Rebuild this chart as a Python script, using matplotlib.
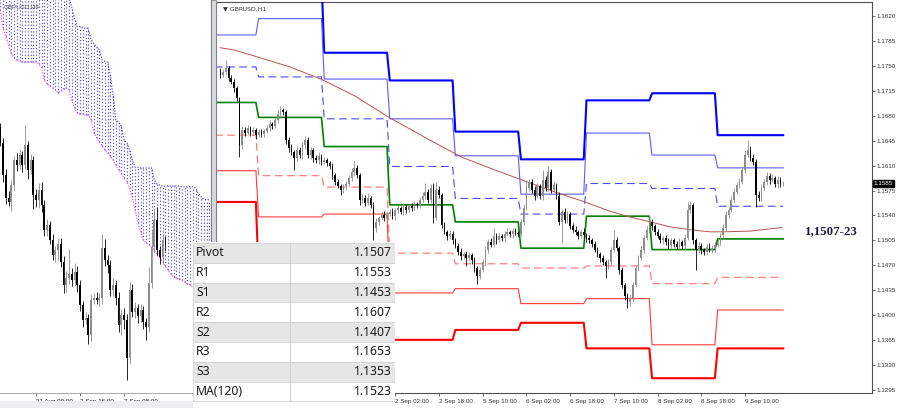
import numpy as np
import matplotlib.pyplot as plt
from matplotlib.patches import Rectangle
from matplotlib.transforms import blended_transform_factory

plt.rcParams['font.family'] = ['Liberation Sans', 'DejaVu Sans']

# ============================================================
# 1) DATA  (read off the screenshot)
# ============================================================
PIP = 0.0001

# --- GBPUSD H1 (right panel), bar index 0 = 30 Aug 10:00 ---
h1_first_open = 1.1745
h1_close = [
    1.1738, 1.1742, 1.1748, 1.1733, 1.1728, 1.1719, 1.1705, 1.1639, 1.1660, 1.1656, 1.1663, 1.1657, 1.1660, 1.1653, 1.1657, 1.1655, 1.1659, 1.1663, 1.1669, 1.1666,
    1.1674, 1.1683, 1.1688, 1.1686, 1.1646, 1.1635, 1.1629, 1.1621, 1.1632, 1.1625, 1.1639, 1.1646, 1.1625, 1.1632, 1.1621, 1.1618, 1.1624, 1.1615, 1.1618, 1.1614,
    1.1610, 1.1597, 1.1587, 1.1581, 1.1576, 1.1581, 1.1584, 1.1593, 1.1601, 1.1607, 1.1597, 1.1562, 1.1565, 1.1558, 1.1565, 1.1555, 1.1522, 1.1531, 1.1536, 1.1541,
    1.1536, 1.1542, 1.1545, 1.1539, 1.1548, 1.1551, 1.1545, 1.1552, 1.1548, 1.1553, 1.1551, 1.1556, 1.1555, 1.1562, 1.1567, 1.1573, 1.1562, 1.1579, 1.1536, 1.1576,
    1.1569, 1.1527, 1.1517, 1.1511, 1.1514, 1.1505, 1.1497, 1.1489, 1.1483, 1.1486, 1.1480, 1.1484, 1.1477, 1.1466, 1.1455, 1.1463, 1.1474, 1.1491, 1.1503, 1.1499,
    1.1511, 1.1505, 1.1511, 1.1508, 1.1514, 1.1517, 1.1514, 1.1518, 1.1515, 1.1514, 1.1531, 1.1551, 1.1579, 1.1587, 1.1576, 1.1567, 1.1581, 1.1567, 1.1590, 1.1579,
    1.1601, 1.1576, 1.1583, 1.1567, 1.1531, 1.1545, 1.1534, 1.1542, 1.1525, 1.1520, 1.1517, 1.1511, 1.1517, 1.1512, 1.1508, 1.1505, 1.1500, 1.1491, 1.1486, 1.1480,
    1.1474, 1.1469, 1.1474, 1.1491, 1.1505, 1.1494, 1.1463, 1.1442, 1.1427, 1.1418, 1.1424, 1.1442, 1.1466, 1.1480, 1.1491, 1.1508, 1.1520, 1.1531, 1.1525, 1.1517,
    1.1511, 1.1505, 1.1508, 1.1503, 1.1499, 1.1505, 1.1500, 1.1496, 1.1503, 1.1497, 1.1508, 1.1548, 1.1555, 1.1505, 1.1491, 1.1497, 1.1491, 1.1489, 1.1496, 1.1491,
    1.1494, 1.1499, 1.1503, 1.1512, 1.1522, 1.1541, 1.1548, 1.1562, 1.1573, 1.1583, 1.1587, 1.1604, 1.1625, 1.1632, 1.1621, 1.1615, 1.1569, 1.1565, 1.1579, 1.1587,
    1.1596, 1.1590, 1.1593, 1.1584, 1.1590, 1.1584, 1.1585,
]
# wick lengths above / below the body, in pips
h1_up = [
    3, 4, 11, 3, 5, 4, 3, 2, 6, 4, 5, 3, 4, 3, 5, 4, 3, 4, 5, 3,
    4, 5, 6, 3, 3, 4, 5, 3, 6, 4, 5, 6, 4, 5, 3, 4, 5, 3, 4, 3,
    3, 4, 3, 5, 3, 4, 5, 4, 6, 10, 4, 3, 5, 4, 6, 3, 4, 5, 3, 4,
    5, 3, 4, 5, 3, 4, 3, 5, 4, 3, 4, 5, 3, 4, 6, 13, 4, 5, 7, 11,
    5, 3, 4, 3, 5, 4, 3, 4, 5, 3, 4, 5, 3, 4, 3, 4, 5, 6, 4, 5,
    11, 4, 5, 3, 4, 5, 3, 4, 5, 3, 4, 5, 11, 5, 4, 6, 5, 4, 14, 5,
    8, 4, 5, 3, 6, 4, 5, 4, 3, 4, 5, 3, 4, 5, 3, 4, 3, 4, 5, 3,
    4, 3, 5, 4, 14, 5, 3, 4, 3, 4, 6, 5, 4, 5, 6, 4, 5, 10, 4, 3,
    4, 5, 3, 4, 5, 4, 3, 4, 5, 3, 6, 11, 5, 3, 4, 5, 4, 3, 4, 5,
    4, 3, 5, 4, 6, 5, 4, 6, 5, 4, 6, 5, 7, 14, 6, 5, 4, 5, 6, 4,
    5, 4, 6, 3, 5, 4, 3,
]
h1_dn = [
    4, 3, 5, 4, 3, 5, 4, 17, 5, 4, 3, 5, 4, 6, 3, 4, 5, 3, 4, 5,
    3, 4, 5, 4, 5, 6, 4, 17, 5, 4, 6, 5, 4, 5, 6, 4, 5, 4, 3, 5,
    4, 5, 4, 3, 7, 4, 5, 3, 4, 5, 4, 7, 5, 4, 3, 4, 17, 5, 4, 3,
    4, 5, 3, 4, 5, 4, 3, 4, 5, 3, 4, 3, 5, 4, 3, 4, 5, 4, 6, 3,
    4, 5, 3, 6, 4, 5, 3, 4, 5, 4, 11, 4, 5, 6, 11, 4, 3, 5, 4, 3,
    4, 5, 3, 4, 5, 3, 4, 5, 3, 4, 3, 4, 3, 5, 4, 5, 3, 4, 5, 4,
    4, 5, 3, 4, 5, 30, 4, 5, 4, 3, 5, 4, 3, 4, 5, 4, 5, 3, 4, 5,
    4, 17, 5, 4, 3, 4, 5, 4, 6, 8, 5, 4, 3, 4, 3, 4, 3, 4, 5, 4,
    3, 4, 5, 4, 6, 5, 4, 3, 5, 4, 4, 3, 4, 5, 28, 4, 5, 4, 5, 3,
    4, 5, 3, 4, 3, 4, 5, 3, 4, 3, 4, 3, 4, 3, 5, 4, 17, 5, 4, 3,
    4, 5, 3, 4, 5, 4, 3,
]

# daily pivot levels (30 Aug ... 9 Sep), first/last H1 bar of each day
day_start = [-2, 14, 38, 62, 86, 110, 134, 158, 182]
day_end = [13, 37, 61, 85, 109, 133, 157, 181, 206]
lvl_r3 = [1.1846, 1.1875, 1.1769, 1.1730, 1.1658, 1.1619, 1.1702, 1.1712, 1.1653]
lvl_r2 = [1.1794, 1.1817, 1.1732, 1.1676, 1.1624, 1.1570, 1.1656, 1.1625, 1.1607]
lvl_r1 = [1.1749, 1.1735, 1.1676, 1.1609, 1.1564, 1.1542, 1.1585, 1.1578, 1.1553]
lvl_p = [1.1699, 1.1678, 1.1637, 1.1555, 1.1531, 1.1494, 1.1539, 1.1492, 1.1507]
lvl_s1 = [1.1653, 1.1596, 1.1580, 1.1487, 1.1472, 1.1466, 1.1469, 1.1444, 1.1453]
lvl_s2 = [1.1603, 1.1538, 1.1542, 1.1431, 1.1437, 1.1416, 1.1423, 1.1358, 1.1407]
lvl_s3 = [1.1559, 1.1456, 1.1485, 1.1365, 1.1379, 1.1389, 1.1353, 1.1311, 1.1353]

# MA(120) read at a few bars
ma_bar = [0, 5, 14.5, 25.5, 36.8, 49.3, 61.3, 76.7, 88.4, 100.5, 112.5, 122.5, 132.7,
          142.6, 148.8, 157.3, 164.6, 171.9, 179.2, 184, 193.9, 205.6]
ma_val = [1.1776, 1.1773, 1.1762, 1.1749, 1.1732, 1.1708, 1.1679, 1.1646, 1.1622, 1.1604,
          1.1587, 1.1573, 1.1560, 1.1546, 1.1539, 1.1531, 1.1524, 1.1520, 1.1517, 1.1517,
          1.1518, 1.1523]

price_ticks = [1.1295, 1.1330, 1.1365, 1.1400, 1.1435, 1.1470, 1.1505, 1.1540,
               1.1575, 1.1610, 1.1645, 1.1680, 1.1715, 1.1750, 1.1785, 1.1820]
h1_tick_bars = [0, 16, 32, 48, 64, 80, 96, 112, 128, 144, 160, 176, 192]
h1_tick_labels = ['30 Aug 2022', '31 Aug 02:00', '31 Aug 18:00', '1 Sep 10:00',
                  '2 Sep 02:00', '2 Sep 18:00', '5 Sep 10:00', '6 Sep 02:00',
                  '6 Sep 18:00', '7 Sep 10:00', '8 Sep 02:00', '8 Sep 18:00', '9 Sep 10:00']
last_price = 1.1585

# --- GBPUSD H4 (left panel) ---
h4_first_open = 1.1758
h4_close = [
    1.1736, 1.1691, 1.1659, 1.1654, 1.1677, 1.1712, 1.1705, 1.1719, 1.1705, 1.1733, 1.1698, 1.1712, 1.1664, 1.1657, 1.1670, 1.1650, 1.1615, 1.1622, 1.1601, 1.1580,
    1.1587, 1.1596, 1.1571, 1.1539, 1.1548, 1.1554, 1.1546, 1.1557, 1.1539, 1.1511, 1.1490, 1.1493, 1.1469, 1.1518, 1.1521, 1.1518, 1.1521, 1.1590, 1.1573, 1.1566,
    1.1532, 1.1539, 1.1521, 1.1483, 1.1497, 1.1490, 1.1437, 1.1532, 1.1501, 1.1507, 1.1496, 1.1504, 1.1487, 1.1480, 1.1541, 1.1591, 1.1629, 1.1587, 1.1578, 1.1601,
    1.1594,
]
h4_up = [
    5, 6, 8, 10, 8, 6, 10, 8, 6, 28, 6, 8, 6, 8, 10, 12, 6, 8, 6, 8,
    6, 8, 8, 8, 10, 35, 8, 12, 8, 6, 6, 8, 6, 8, 6, 8, 6, 20, 12, 8,
    8, 10, 6, 8, 8, 10, 8, 11, 8, 8, 6, 8, 6, 6, 22, 24, 14, 18, 6, 8,
    6,
]
h4_dn = [
    5, 10, 8, 6, 12, 8, 8, 6, 10, 6, 12, 6, 20, 10, 12, 10, 8, 8, 6, 6,
    10, 14, 8, 12, 10, 8, 8, 8, 10, 8, 10, 6, 12, 8, 6, 6, 8, 8, 8, 10,
    8, 8, 10, 10, 14, 12, 30, 8, 6, 8, 10, 8, 10, 18, 6, 6, 8, 6, 10, 10,
    8,
]
# Ichimoku cloud edges per H4 bar
cloud_top = [1.1941] * 20 + [
    1.1941, 1.1941, 1.1941, 1.1941, 1.1941, 1.1941, 1.1923, 1.1909, 1.1897, 1.1897,
    1.1895, 1.1895, 1.1895, 1.1879, 1.1873, 1.1869, 1.1865, 1.1851, 1.1849, 1.1848,
    1.1830, 1.1802, 1.1768, 1.1765, 1.1759, 1.1740, 1.1736, 1.1726, 1.1712, 1.1702,
    1.1702, 1.1701, 1.1701, 1.1701, 1.1701, 1.1701, 1.1684, 1.1679, 1.1677, 1.1676,
    1.1676, 1.1676, 1.1676, 1.1676, 1.1676, 1.1676, 1.1675, 1.1675, 1.1675, 1.1675,
    1.1675, 1.1673, 1.1666, 1.1661, 1.1657, 1.1657, 1.1657,
]
cloud_bot = [
    1.1920, 1.1895, 1.1884, 1.1872, 1.1860, 1.1854, 1.1851, 1.1849, 1.1848, 1.1848,
    1.1848, 1.1848, 1.1848, 1.1848, 1.1845, 1.1841, 1.1823, 1.1817, 1.1815, 1.1812,
    1.1809, 1.1805, 1.1808, 1.1811, 1.1812, 1.1809, 1.1795, 1.1784, 1.1777, 1.1776,
    1.1776, 1.1774, 1.1774, 1.1768, 1.1750, 1.1743, 1.1737, 1.1732, 1.1726, 1.1722,
    1.1718, 1.1712, 1.1705, 1.1698, 1.1693, 1.1687, 1.1682, 1.1673, 1.1661, 1.1643,
    1.1625, 1.1612, 1.1601, 1.1597, 1.1594, 1.1591, 1.1587, 1.1580, 1.1576, 1.1571,
    1.1565, 1.1559, 1.1554, 1.1550, 1.1548, 1.1547, 1.1546, 1.1543, 1.1540, 1.1539,
    1.1536, 1.1535, 1.1533, 1.1532, 1.1532, 1.1532, 1.1532,
]
h4_tick_bars = [13, 29, 45]
h4_tick_labels = ['31 Aug 00:00', '2 Sep 16:00', '7 Sep 08:00']

# summary table
table_names = ['Pivot', 'R1', 'S1', 'R2', 'S2', 'R3', 'S3', 'MA(120)']
table_values = ['1.1507', '1.1553', '1.1453', '1.1607', '1.1407', '1.1653', '1.1353', '1.1523']


# ============================================================
# 2) HELPERS
# ============================================================
W, H = 900, 408


def px_box(x0, y0, x1, y1):
    # pixel box (top-left origin) -> figure fraction rect
    return [x0 / W, 1 - y1 / H, (x1 - x0) / W, (y1 - y0) / H]


def draw_candles(ax, first_open, closes, up, dn, width):
    closes = np.array(closes)
    opens = np.concatenate([[first_open], closes[:-1]])
    x = np.arange(len(closes))
    top = np.maximum(opens, closes)
    bot = np.minimum(opens, closes)
    highs = top + np.array(up) * PIP
    lows = bot - np.array(dn) * PIP
    cols = np.where(closes < opens, '#000000', '#8c8c8c')
    ax.vlines(x, lows, highs, colors=cols, lw=0.6, zorder=4)
    ax.bar(x, np.maximum(top - bot, 0.00006), width, bottom=bot,
           color=cols, lw=0, zorder=5)


def step_level(ax, values, **kw):
    xs, ys = [], []
    for s, e, v in zip(day_start, day_end, values):
        xs += [s, e]
        ys += [v, v]
    ax.plot(xs, ys, **kw)


# ============================================================
# 3) FIGURE
# ============================================================
fig = plt.figure(figsize=(9, 4.08), dpi=100)
fig.patch.set_facecolor('white')
fig.patches.append(Rectangle((0, 0), 211 / W, 7 / H, transform=fig.transFigure,
                             facecolor='#eceef2', edgecolor='none', zorder=0))

# --- left panel: H4 with cloud ---
axl = fig.add_axes(px_box(0, 0, 211, 393))
axl.set_xlim(-0.09, 76.6)
axl.set_ylim(1.13889, 1.1934)
jj = np.arange(len(cloud_top))
axl.vlines(jj, cloud_bot, cloud_top, colors='#3c3cff', lw=0.8,
           linestyles=(0, (1, 2)), zorder=2)
axl.plot(jj, cloud_top, color='#2a2aff', lw=0.8, ls=(0, (1, 1.5)), zorder=2)
axl.plot(jj, cloud_bot, color='#ff30ff', lw=0.8, ls=(0, (1, 1.5)), zorder=2)
draw_candles(axl, h4_first_open, h4_close, h4_up, h4_dn, 0.6)
axl.set_yticks([])
axl.set_xticks(h4_tick_bars)
axl.set_xticklabels(h4_tick_labels, ha='left', fontsize=4.5, color='#222222')
axl.tick_params(axis='x', length=2.5, width=0.5, pad=1.5, color='#444444')
# first date label, its day number lies off the left edge in the reference
axl.text(0.008, -0.025, 'Aug 2022', transform=axl.transAxes,
         fontsize=4.5, color='#222222', ha='left', va='top', clip_on=False)
for side in ['top', 'left']:
    axl.spines[side].set_visible(False)
axl.spines['right'].set_color('#505050')
axl.spines['bottom'].set_color('#9a9a9a')
axl.spines['bottom'].set_linewidth(0.6)
axl.text(0.015, 0.99, 'GBPUSD,H4', transform=axl.transAxes, fontsize=4.5,
         color='#555555', va='top', ha='left', zorder=6)

# splitter between the two charts
fig.patches.append(Rectangle((211 / W, 1 - 393 / H), 5 / W, 393 / H,
                             transform=fig.transFigure, facecolor='#d3d7dc',
                             edgecolor='#7a7a7a', lw=0.5, zorder=1))

# --- right panel: H1 with daily pivots ---
ax = fig.add_axes(px_box(216, 2, 872, 393))
ax.set_xlim(-1.6, 238.5)
ax.set_ylim(1.12902, 1.18404)

step_level(ax, lvl_r3, color='#0000ff', lw=1.5, zorder=3)
step_level(ax, lvl_r2, color='#5c5cff', lw=0.8, zorder=3)
step_level(ax, lvl_r1, color='#4a4aff', lw=0.8, ls=(0, (7, 4)), zorder=3)
step_level(ax, lvl_p, color='#008000', lw=1.2, zorder=3)
step_level(ax, lvl_s1, color='#ff7070', lw=0.8, ls=(0, (7, 4)), zorder=3)
step_level(ax, lvl_s2, color='#ff3a3a', lw=0.8, zorder=3)
step_level(ax, lvl_s3, color='#ff0000', lw=1.5, zorder=3)
ax.plot(ma_bar, ma_val, color='#b9544c', lw=0.7, zorder=3)

draw_candles(ax, h1_first_open, h1_close, h1_up, h1_dn, 0.6)

ax.yaxis.tick_right()
ax.set_yticks(price_ticks)
ax.set_yticklabels([f'{p:.4f}' for p in price_ticks])
ax.tick_params(axis='y', length=2, width=0.5, pad=1.5, labelsize=4.5,
               colors='#333333')
ax.set_xticks(h1_tick_bars)
ax.set_xticklabels(h1_tick_labels, ha='left')
ax.tick_params(axis='x', length=2.5, width=0.5, pad=1.5, labelsize=4.5,
               colors='#333333')
for s in ax.spines.values():
    s.set_color('#505050')
    s.set_linewidth(0.8)

ax.text(0.011, 0.988, '\u25bc GBPUSD,H1', transform=ax.transAxes, fontsize=4.5,
        color='#333333', va='top', ha='left', family=['DejaVu Sans'])
ax.text(1.003, last_price, f'{last_price:.4f}',
        transform=blended_transform_factory(ax.transAxes, ax.transData),
        fontsize=4.5, color='white', va='center', ha='left', clip_on=False,
        bbox=dict(facecolor='black', edgecolor='black', pad=0.8), zorder=10)
ax.text(223.5, 1.1518, '1,1507-23', fontsize=9.3, fontweight='bold',
        family=['Liberation Serif'], color='#1c1c46', ha='center', va='center')

# --- pivot table overlay ---
axt = fig.add_axes(px_box(193, 242, 395, 408), zorder=20)
axt.set_xlim(193, 395)
axt.set_ylim(408, 242)
axt.axis('off')
axt.add_patch(Rectangle((193, 242), 202, 166, facecolor='white', edgecolor='none'))
row_h = 19.8
for k, (name, val) in enumerate(zip(table_names, table_values)):
    y0 = 243 + k * row_h
    bg = '#e6e6e6' if k % 2 == 0 else 'white'
    axt.add_patch(Rectangle((193, y0), 202, row_h, facecolor=bg,
                            edgecolor='#d2d2d2', lw=0.6))
    axt.text(196, y0 + row_h / 2, name, fontsize=8.8, family=['Noto Sans'],
             color='#1a1a1a', va='center', ha='left')
    axt.text(392, y0 + row_h / 2, val, fontsize=8.8, family=['Noto Sans'],
             color='#1a1a1a', va='center', ha='right')
axt.plot([290, 290], [243, 243 + 8 * row_h], color='#cfcfcf', lw=0.8)

fig.savefig('out.png', dpi=100)
